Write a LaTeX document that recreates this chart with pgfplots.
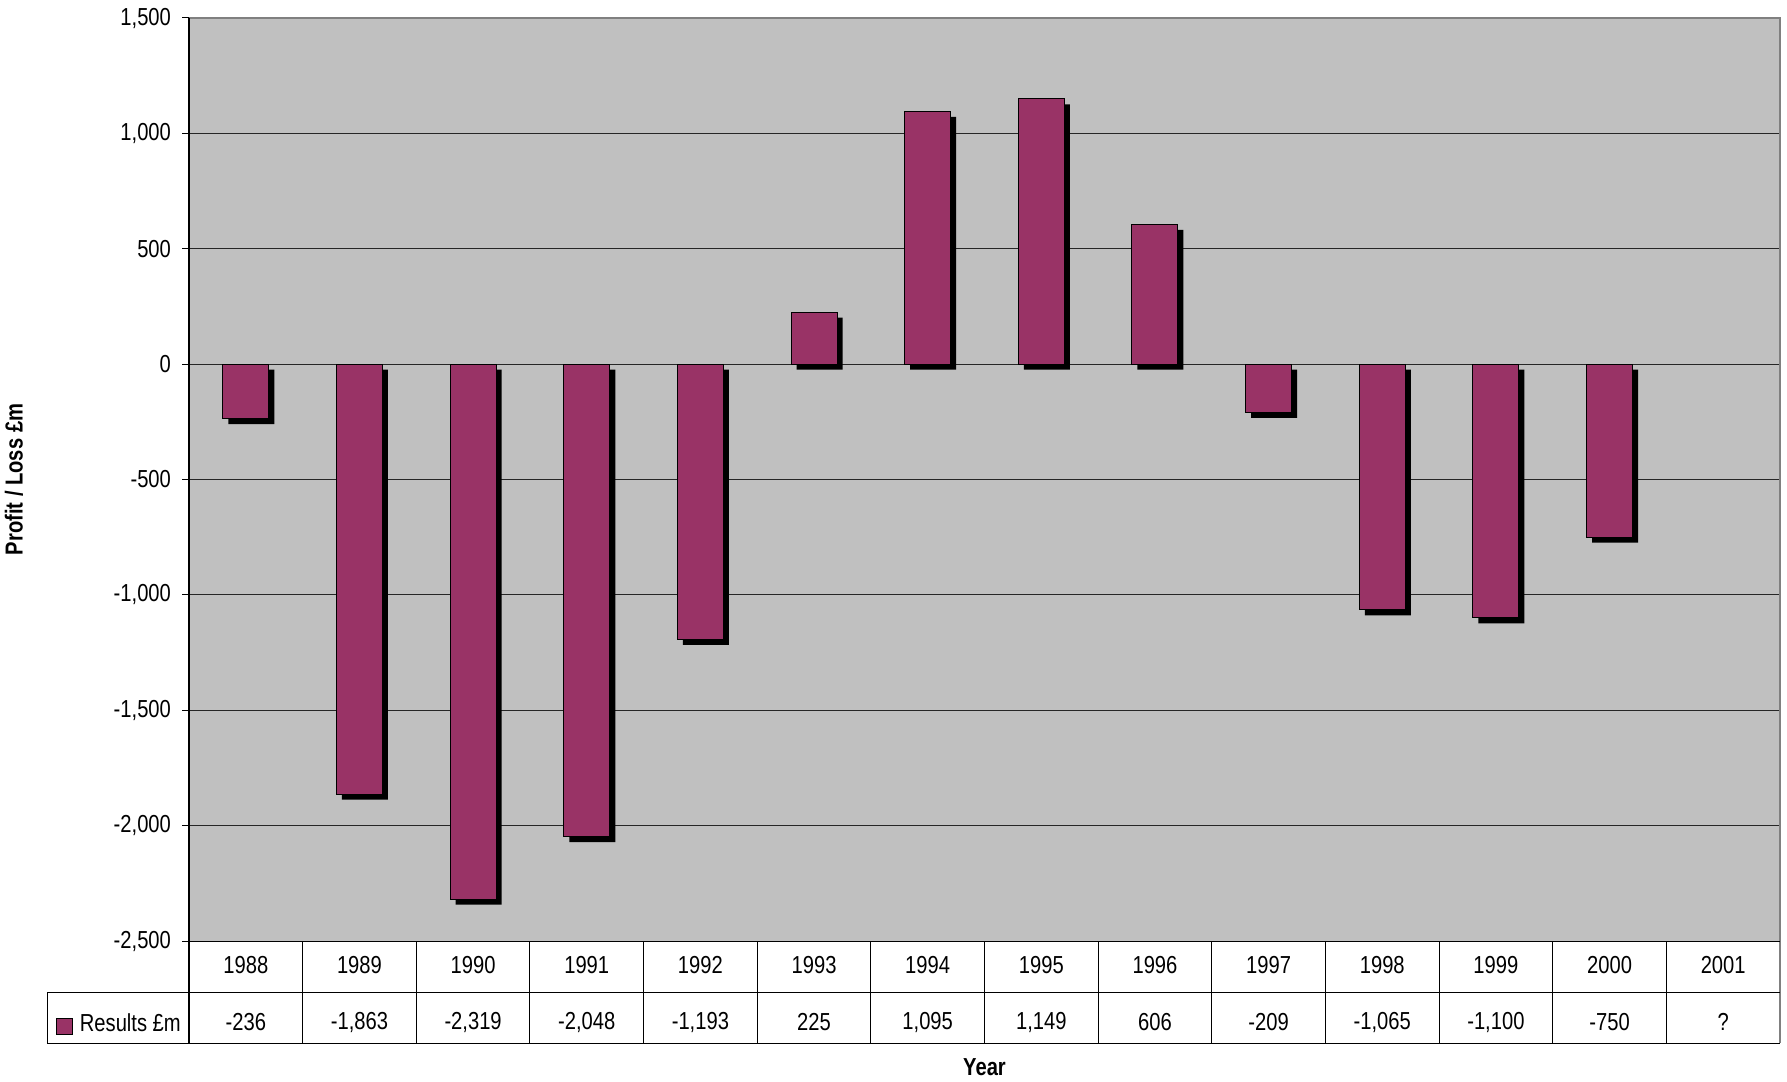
\documentclass[border=0pt]{standalone}
\usepackage{fontspec}
\setmainfont{Liberation Sans}[FakeStretch=0.82]
\usepackage{pgfplots}
\pgfplotsset{compat=1.18}
\definecolor{plum}{RGB}{153,51,102}
\definecolor{wallgray}{RGB}{192,192,192}
\definecolor{edgegray}{RGB}{128,128,128}
\newcommand{\chartfont}{\fontsize{12.3}{14}\selectfont}

\begin{document}
\begin{tikzpicture}
\begin{axis}[
    scale only axis,
    width=795.5pt, height=461.5pt,
    xmin=-0.5, xmax=13.5,
    ymin=-2500, ymax=1500,
    clip=false,
    axis background/.style={fill=wallgray},
    axis line style={draw=none},
    ytick={-2500,-2000,...,1500},
    ytick pos=left,
    tick align=outside,
    major tick length=3.5pt,
    ytick style={black, line width=0.5pt},
    xtick style={draw=none},
    ymajorgrids,
    grid style={black!85, line width=0.5pt},
    /pgf/number format/assume math mode=true,
    /pgf/number format/1000 sep={,},
    tick label style={font=\chartfont},
    yticklabel style={xshift=-2pt},
    xtick={0,...,13},
    xticklabels={1988,1989,1990,1991,1992,1993,1994,1995,1996,1997,1998,1999,2000,2001},
    xticklabel style={anchor=center, yshift=-8.5pt},
    extra x ticks={0,...,13},
    extra x tick labels={-236,{-1,863},{-2,319},{-2,048},{-1,193},225,{1,095},{1,149},606,-209,{-1,065},{-1,100},-750,?},
    extra x tick style={xtick style={draw=none}, xticklabel style={yshift=-28.5pt}},
    ylabel={\bfseries Profit / Loss £m},
    ylabel style={font=\chartfont, at={(-0.1100,0.5)}, anchor=center},
    xlabel={\bfseries Year},
    xlabel style={font=\chartfont, at={(0.5,-0.1365)}, anchor=center},
    legend style={at={(0,0)}, anchor=west, xshift=-66.5pt, yshift=-41.75pt,
        draw=none, fill=none, inner sep=0pt, font=\chartfont},
    legend image code/.code={
        \path[draw=none, fill=none] (0pt,0pt) -- (9.5pt,0pt);
        \draw[fill=plum, draw=black, line width=0.5pt] (0pt,-4.75pt) rectangle (8pt,3.25pt);},
]
% shadow
\addplot[ybar, bar width=23pt, bar shift=0pt, fill=black, draw=none,
    xshift=2.75pt, yshift=-2.75pt, forget plot]
    coordinates {(0,-236)(1,-1863)(2,-2319)(3,-2048)(4,-1193)(5,225)(6,1095)
                 (7,1149)(8,606)(9,-209)(10,-1065)(11,-1100)(12,-750)};
\addplot[ybar, bar width=23pt, bar shift=0pt, fill=plum, draw=black, line width=0.5pt]
    coordinates {(0,-236)(1,-1863)(2,-2319)(3,-2048)(4,-1193)(5,225)(6,1095)
                 (7,1149)(8,606)(9,-209)(10,-1065)(11,-1100)(12,-750)};
\legend{Results £m}

% frame and data table
\draw[edgegray, line width=0.6pt] (rel axis cs:0,1) -- (rel axis cs:1,1) -- (rel axis cs:1,0) -- ([yshift=-51pt]rel axis cs:1,0);
\draw[black, line width=0.6pt] (rel axis cs:0,1) -- ([yshift=-51pt]rel axis cs:0,0);
\draw[black, line width=0.5pt] (rel axis cs:0,0) -- (rel axis cs:1,0);
\draw[black, line width=0.5pt] ([yshift=-25.5pt]rel axis cs:0,0) -- ([yshift=-25.5pt]rel axis cs:1,0);
\draw[black, line width=0.5pt] ([xshift=-70.5pt, yshift=-25.5pt]rel axis cs:0,0) -- ([yshift=-25.5pt]rel axis cs:0,0);
\draw[black, line width=0.5pt] ([xshift=-70.5pt, yshift=-25.5pt]rel axis cs:0,0) -- ([xshift=-70.5pt, yshift=-51pt]rel axis cs:0,0) -- ([yshift=-51pt]rel axis cs:1,0);
\pgfplotsinvokeforeach{1,...,13}{
  \draw[black, line width=0.5pt] (rel axis cs:{#1/14},0) -- ([yshift=-51pt]rel axis cs:{#1/14},0);
}
\coordinate (SW) at (rel axis cs:0,0);
\coordinate (NE) at (rel axis cs:1,1);
\end{axis}
\pgfresetboundingbox
\path[use as bounding box] ([shift={(-94.5pt,-70pt)}]SW) rectangle ([shift={(3.5pt,9pt)}]NE);
\end{tikzpicture}
\end{document}
